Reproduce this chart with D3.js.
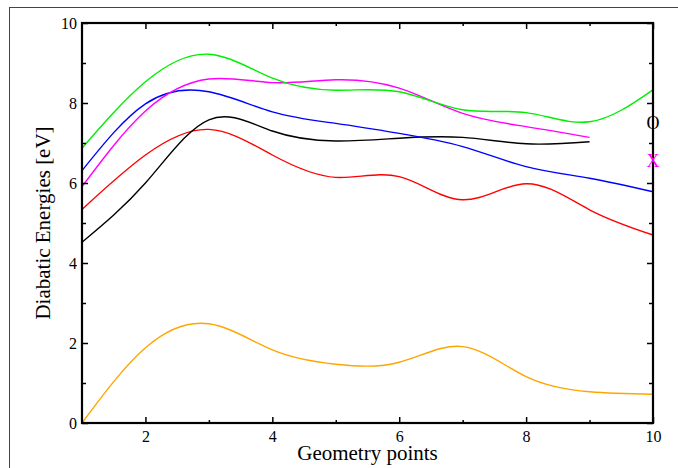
<!DOCTYPE html>
<html>
<head>
<meta charset="utf-8">
<script src="https://cdn.jsdelivr.net/npm/d3@7/dist/d3.min.js"></script>
<style>
  body { margin: 0; background: #fff; }
  svg { display: block; font-family: "Liberation Serif", "DejaVu Serif", serif; }
</style>
</head>
<body>
<svg id="chart" width="678" height="468"></svg>
<script>
// geometry points along the path
const points = [1, 2, 3, 4, 5, 6, 7, 8, 9, 10]

// diabatic energies [eV] per state
const green   = [6.87, 8.53, 9.22, 8.62, 8.32, 8.28, 7.83, 7.76, 7.53, 8.33]
const magenta = [5.91, 7.80, 8.60, 8.51, 8.58, 8.37, 7.74, 7.41, 7.14]
const blue    = [6.31, 7.98, 8.28, 7.78, 7.49, 7.24, 6.91, 6.41, 6.12, 5.78]
const black   = [4.52, 6.00, 7.58, 7.30, 7.05, 7.12, 7.14, 6.98, 7.03]
const red     = [5.34, 6.70, 7.34, 6.70, 6.14, 6.16, 5.58, 5.98, 5.33, 4.70]
const orange  = [0.00, 1.88, 2.48, 1.83, 1.47, 1.52, 1.91, 1.16, 0.78, 0.72]

const xTicks = [2, 4, 6, 8, 10]
const xMinor = [3, 5, 7, 9]
const yTicks = [0, 2, 4, 6, 8, 10]
const yMinor = [1, 3, 5, 7, 9]

const series = [
  { values: orange,  color: "#ffa500" },
  { values: red,     color: "#ff0000" },
  { values: black,   color: "#000000" },
  { values: blue,    color: "#0000ff" },
  { values: magenta, color: "#ff00ff" },
  { values: green,   color: "#00ee00" }
]

let margin = { top: 23, right: 25, bottom: 45, left: 82 }
let width = 678 - margin.left - margin.right
let height = 468 - margin.top - margin.bottom

let svg = d3.select("#chart")

// outer frame
svg.append("rect")
  .attr("x", 9.5)
  .attr("y", 7.5)
  .attr("width", 700)
  .attr("height", 500)
  .attr("fill", "none")
  .attr("stroke", "#444")
  .attr("stroke-width", 1)

let chart = svg.append("g")
  .attr("transform", "translate(" + margin.left + ", " + margin.top + ")")

let x = d3.scaleLinear()
  .domain([1, 10])
  .range([0, width])

let y = d3.scaleLinear()
  .domain([0, 10])
  .range([height, 0])

// curves
let line = d3.line()
  .x(function(d, i) { return x(points[i]) })
  .y(function(d) { return y(d) })
  .curve(d3.curveNatural)

chart.selectAll(".curve")
  .data(series)
  .enter()
  .append("path")
  .attr("class", "curve")
  .attr("fill", "none")
  .attr("stroke", function(d) { return d.color })
  .attr("stroke-width", 1.4)
  .attr("d", function(d) { return line(d.values) })

// axes, ticks pointing inward on all four sides
function styleAxis(g) {
  g.attr("font-family", "Liberation Serif")
    .attr("font-size", 16)
  g.select(".domain").remove()
  g.selectAll(".tick line").attr("stroke", "#000").attr("stroke-width", 1.5)
  g.selectAll(".tick text").attr("fill", "#000")
}

chart.append("g")
  .attr("transform", "translate(0," + height + ")")
  .call(d3.axisBottom(x).tickValues(xTicks).tickSize(-6).tickPadding(8).tickFormat(d3.format("d")))
  .call(styleAxis)

chart.append("g")
  .attr("transform", "translate(0," + height + ")")
  .call(d3.axisBottom(x).tickValues(xMinor).tickSize(-3).tickFormat(""))
  .call(styleAxis)

chart.append("g")
  .call(d3.axisTop(x).tickValues(xTicks).tickSize(-6).tickFormat(""))
  .call(styleAxis)

chart.append("g")
  .call(d3.axisTop(x).tickValues(xMinor).tickSize(-3).tickFormat(""))
  .call(styleAxis)

chart.append("g")
  .call(d3.axisLeft(y).tickValues(yTicks).tickSize(-6).tickPadding(5).tickFormat(d3.format("d")))
  .call(styleAxis)

chart.append("g")
  .call(d3.axisLeft(y).tickValues(yMinor).tickSize(-4).tickFormat(""))
  .call(styleAxis)

chart.append("g")
  .attr("transform", "translate(" + width + ",0)")
  .call(d3.axisRight(y).tickValues(yTicks).tickSize(-6).tickFormat(""))
  .call(styleAxis)

chart.append("g")
  .attr("transform", "translate(" + width + ",0)")
  .call(d3.axisRight(y).tickValues(yMinor).tickSize(-4).tickFormat(""))
  .call(styleAxis)

// plot frame
chart.append("rect")
  .attr("width", width)
  .attr("height", height)
  .attr("fill", "none")
  .attr("stroke", "#000")
  .attr("stroke-width", 2.2)

// state markers at the right edge
chart.append("text")
  .attr("x", x(10))
  .attr("y", y(7.51))
  .attr("dy", "0.35em")
  .attr("text-anchor", "middle")
  .attr("font-size", 18)
  .attr("fill", "#000")
  .text("O")

chart.append("text")
  .attr("x", x(10))
  .attr("y", y(6.57))
  .attr("dy", "0.35em")
  .attr("text-anchor", "middle")
  .attr("font-size", 18)
  .attr("fill", "#ff00ff")
  .text("X")

// axis titles
chart.append("text")
  .attr("x", width / 2)
  .attr("y", height + 37)
  .attr("text-anchor", "middle")
  .attr("font-size", 21)
  .text("Geometry points")

chart.append("text")
  .attr("transform", "translate(-32," + (height / 2) + ") rotate(-90)")
  .attr("text-anchor", "middle")
  .attr("font-size", 21)
  .text("Diabatic Energies [eV]")
</script>
</body>
</html>
